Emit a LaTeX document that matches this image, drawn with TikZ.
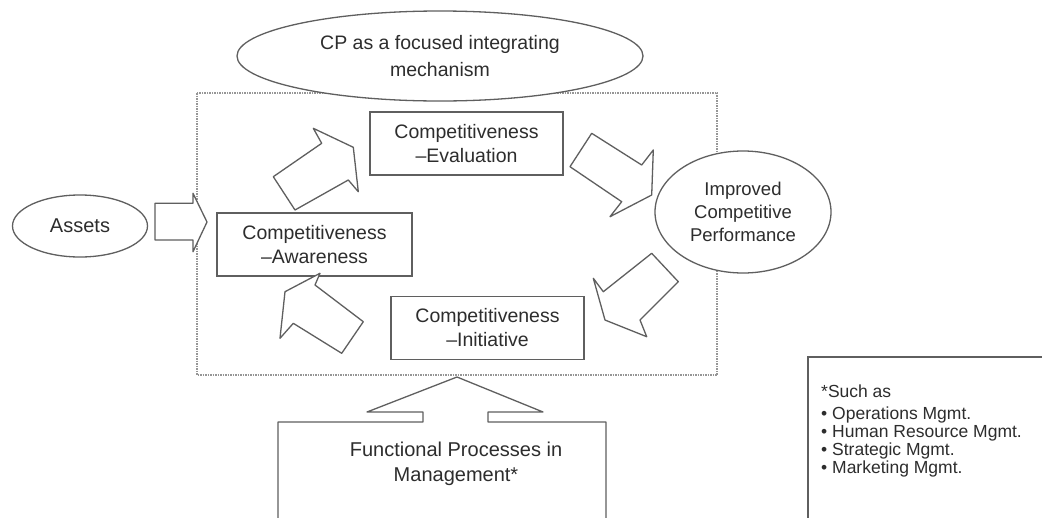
\documentclass[tikz,border=0pt]{standalone}
\usepackage{fontspec}
\setmainfont{Liberation Sans}
\usetikzlibrary{shapes.geometric}
\definecolor{ln}{RGB}{95,95,95}
\definecolor{fr}{RGB}{150,150,150}
\definecolor{tx}{RGB}{45,45,45}
\begin{document}
\begin{tikzpicture}[x=1pt,y=-1pt,
  box/.style={draw=ln, line width=1.3pt, fill=white, rectangle, minimum width=193pt, minimum height=63pt, inner sep=0pt, align=center, text=tx, font=\fontsize{19.5}{24}\selectfont},
  oval/.style={draw=ln, line width=1.3pt, fill=white, ellipse, inner sep=0pt, align=center, text=tx},
  blockarrow/.style={draw=ln, line width=1.3pt, fill=white, line join=round},
  frame/.style={draw=fr, line width=1.2pt, dash pattern=on 1.5pt off 1pt},
  plain/.style={align=center, text=tx, inner sep=0pt}]
\clip (0,0) rectangle (1042,517);
\fill[white] (0,0) rectangle (1042,517);
% dotted frame
\draw[frame] (197,93) rectangle (717,375);
% ellipses
\node[oval, minimum width=406pt, minimum height=90pt, font=\fontsize{19.5}{27}\selectfont] (cp) at (440,56) {CP as a focused integrating\\mechanism};
\node[oval, minimum width=135pt, minimum height=62pt, font=\fontsize{20}{24}\selectfont] (assets) at (80,226) {Assets};
\node[oval, minimum width=176pt, minimum height=122pt, font=\fontsize{18.5}{23}\selectfont] (improved) at (743,212) {Improved\\Competitive\\Performance};
% boxes
\node[box] (eval) at (466.5,143.5) {Competitiveness\\–Evaluation};
\node[box, minimum width=195pt] (aware) at (314.5,244.5) {Competitiveness\\–Awareness};
\node[box] (init) at (487.5,328) {Competitiveness\\–Initiative};
% block arrows
\draw[blockarrow] (155,203.3) -- (193,203.3) -- (193,193.3) -- (207,222) -- (193,251.7) -- (193,240) -- (155,240) -- cycle;
\draw[blockarrow] (295,210) -- (273.3,176.7) -- (321.7,143.3) -- (313.3,128.3) -- (353.3,147.3) -- (358.3,191.7) -- (348.3,180) -- cycle;
\draw[blockarrow] (591.7,133.3) -- (641.7,165) -- (653.3,150) -- (651.7,195) -- (610,216.7) -- (621.7,201.7) -- (570,166.7) -- cycle;
\draw[blockarrow] (651.7,253.3) -- (678.3,281.7) -- (640,320) -- (646.7,336.7) -- (605,320) -- (593.3,278.3) -- (603.3,291.7) -- cycle;
\draw[blockarrow] (363.3,321.7) -- (341.7,353.3) -- (293.3,323.3) -- (280,338.3) -- (285,291.7) -- (320,273.3) -- (315,285) -- cycle;
% functional processes box with up arrow
\draw[blockarrow] (423,422) -- (423,412) -- (367,412) -- (457,377) -- (543,412) -- (488,412) -- (488,422) -- (606,422) -- (606,530) -- (278,530) -- (278,422) -- cycle;
\node[plain, font=\fontsize{20}{25}\selectfont] (func) at (456,464) {Functional Processes in\\Management*};
% footnote box
\draw[draw=ln, line width=1.3pt, fill=white] (808,357) rectangle (1060,530);
\node[plain, align=left, anchor=north west, font=\fontsize{17.5}{18}\selectfont] (note) at (821,385) {*Such as\\[3.5pt]\textbullet\ Operations Mgmt.\\\textbullet\ Human Resource Mgmt.\\\textbullet\ Strategic Mgmt.\\\textbullet\ Marketing Mgmt.};
\end{tikzpicture}
\end{document}
